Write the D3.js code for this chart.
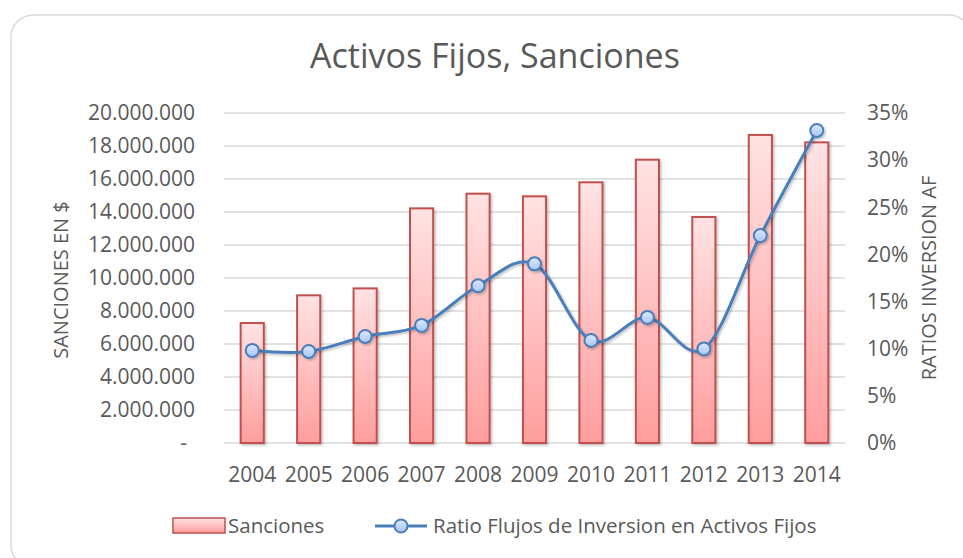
<!DOCTYPE html>
<html>
<head>
<meta charset="utf-8">
<script src="https://cdn.jsdelivr.net/npm/d3@7"></script>
<style>
  body { margin: 0; background: #fff; }
  text { font-family: "Open Sans", sans-serif; fill: #595959; }
</style>
</head>
<body>
<svg width="963" height="558"></svg>
<script>
// data
let years = ["2004","2005","2006","2007","2008","2009","2010","2011","2012","2013","2014"];
let sanciones = [7270000, 8950000, 9370000, 14220000, 15110000, 14950000, 15800000, 17170000, 13700000, 18670000, 18220000];
let ratios = [0.0982, 0.0971, 0.113, 0.1247, 0.1668, 0.190, 0.1088, 0.1332, 0.0998, 0.220, 0.3315];
let leftTicks = [0, 2000000, 4000000, 6000000, 8000000, 10000000, 12000000, 14000000, 16000000, 18000000, 20000000];
let rightTicks = [0, 0.05, 0.10, 0.15, 0.20, 0.25, 0.30, 0.35];

let svg = d3.select("svg");
let plotLeft = 224, plotRight = 845, plotTop = 113, plotBottom = 443;

// frame
svg.append("rect")
  .attr("x", 11).attr("y", 15)
  .attr("width", 960).attr("height", 552)
  .attr("rx", 22).attr("ry", 22)
  .attr("fill", "#fff")
  .attr("stroke", "#d9d9d9")
  .attr("stroke-width", 1.5);

let defs = svg.append("defs");
let barGrad = defs.append("linearGradient").attr("id", "barGrad")
  .attr("x1", 0).attr("y1", 0).attr("x2", 0).attr("y2", 1);
barGrad.append("stop").attr("offset", "0%").attr("stop-color", "#ffe3e3");
barGrad.append("stop").attr("offset", "100%").attr("stop-color", "#ff9d9d");

let dotGrad = defs.append("linearGradient").attr("id", "dotGrad")
  .attr("x1", 0).attr("y1", 0).attr("x2", 0).attr("y2", 1);
dotGrad.append("stop").attr("offset", "0%").attr("stop-color", "#dfeaff");
dotGrad.append("stop").attr("offset", "100%").attr("stop-color", "#a6c4f7");

let shadow = defs.append("filter").attr("id", "shadow")
  .attr("x", "-20%").attr("y", "-20%").attr("width", "150%").attr("height", "150%");
shadow.append("feDropShadow")
  .attr("dx", 1.5).attr("dy", 1.5).attr("stdDeviation", 1.2)
  .attr("flood-color", "#000").attr("flood-opacity", 0.25);

// scales
let x = d3.scaleBand()
  .domain(years)
  .range([plotLeft, plotRight])
  .paddingInner(0.59)
  .paddingOuter(0.295);
let yL = d3.scaleLinear().domain([0, 20000000]).range([plotBottom, plotTop]);
let yR = d3.scaleLinear().domain([0, 0.35]).range([plotBottom, plotTop]);

// gridlines
svg.append("g")
  .selectAll("line")
  .data(leftTicks)
  .join("line")
    .attr("x1", plotLeft).attr("x2", plotRight)
    .attr("y1", d => yL(d)).attr("y2", d => yL(d))
    .attr("stroke", "#d9d9d9")
    .attr("stroke-width", 1.3);

// left axis labels
let fmt = d3.formatLocale({decimal: ",", thousands: ".", grouping: [3], currency: ["$", ""]}).format(",.0f");
svg.append("g")
  .selectAll("text")
  .data(leftTicks)
  .join("text")
    .attr("x", d => d == 0 ? 187 : 195)
    .attr("y", d => yL(d))
    .attr("dy", "0.35em")
    .attr("text-anchor", "end")
    .style("font-size", "21px")
    .text(d => d == 0 ? "-" : fmt(d));

// right axis labels
svg.append("g")
  .selectAll("text")
  .data(rightTicks)
  .join("text")
    .attr("x", 867)
    .attr("y", d => yR(d))
    .attr("dy", "0.35em")
    .style("font-size", "21px")
    .text(d3.format(".0%"));

// x labels
svg.append("g")
  .selectAll("text")
  .data(years)
  .join("text")
    .attr("x", d => x(d) + x.bandwidth() / 2)
    .attr("y", 482)
    .attr("text-anchor", "middle")
    .style("font-size", "21px")
    .text(d => d);

// axis titles
svg.append("text")
  .attr("transform", "translate(68,280) rotate(-90)")
  .attr("text-anchor", "middle")
  .style("font-size", "20px")
  .text("SANCIONES EN $");
svg.append("text")
  .attr("transform", "translate(936,278) rotate(-90)")
  .attr("text-anchor", "middle")
  .style("font-size", "20px")
  .text("RATIOS INVERSION AF");

// title
svg.append("text")
  .attr("x", 495).attr("y", 68)
  .attr("text-anchor", "middle")
  .style("font-size", "34px")
  .text("Activos Fijos, Sanciones");

// bars
svg.append("g")
  .selectAll("rect")
  .data(sanciones)
  .join("rect")
    .attr("x", (d, i) => x(years[i]))
    .attr("y", d => yL(d))
    .attr("width", x.bandwidth())
    .attr("height", d => plotBottom - yL(d))
    .attr("fill", "url(#barGrad)")
    .attr("stroke", "#c0504d")
    .attr("stroke-width", 2)
    .attr("filter", "url(#shadow)");

// ratio line
let line = d3.line()
  .x((d, i) => x(years[i]) + x.bandwidth() / 2)
  .y(d => yR(d))
  .curve(d3.curveCatmullRom.alpha(0));
svg.append("path")
  .datum(ratios)
  .attr("d", line)
  .attr("fill", "none")
  .attr("stroke", "#4a7ebb")
  .attr("stroke-width", 3)
  .attr("filter", "url(#shadow)");

svg.append("g")
  .selectAll("circle")
  .data(ratios)
  .join("circle")
    .attr("cx", (d, i) => x(years[i]) + x.bandwidth() / 2)
    .attr("cy", d => yR(d))
    .attr("r", 6.5)
    .attr("fill", "url(#dotGrad)")
    .attr("stroke", "#4a7ebb")
    .attr("stroke-width", 2)
    .attr("filter", "url(#shadow)");

// legend
let lg = svg.append("g");
lg.append("rect")
  .attr("x", 173).attr("y", 518)
  .attr("width", 52).attr("height", 15)
  .attr("fill", "url(#barGrad)")
  .attr("stroke", "#c0504d")
  .attr("stroke-width", 1.5);
lg.append("text")
  .attr("x", 228).attr("y", 533)
  .style("font-size", "20.5px")
  .text("Sanciones");
lg.append("line")
  .attr("x1", 375).attr("x2", 427)
  .attr("y1", 526).attr("y2", 526)
  .attr("stroke", "#4a7ebb")
  .attr("stroke-width", 3);
lg.append("circle")
  .attr("cx", 401).attr("cy", 526).attr("r", 6.5)
  .attr("fill", "url(#dotGrad)")
  .attr("stroke", "#4a7ebb")
  .attr("stroke-width", 2);
lg.append("text")
  .attr("x", 433).attr("y", 533)
  .style("font-size", "20.5px")
  .text("Ratio Flujos de Inversion en Activos Fijos");
</script>
</body>
</html>
